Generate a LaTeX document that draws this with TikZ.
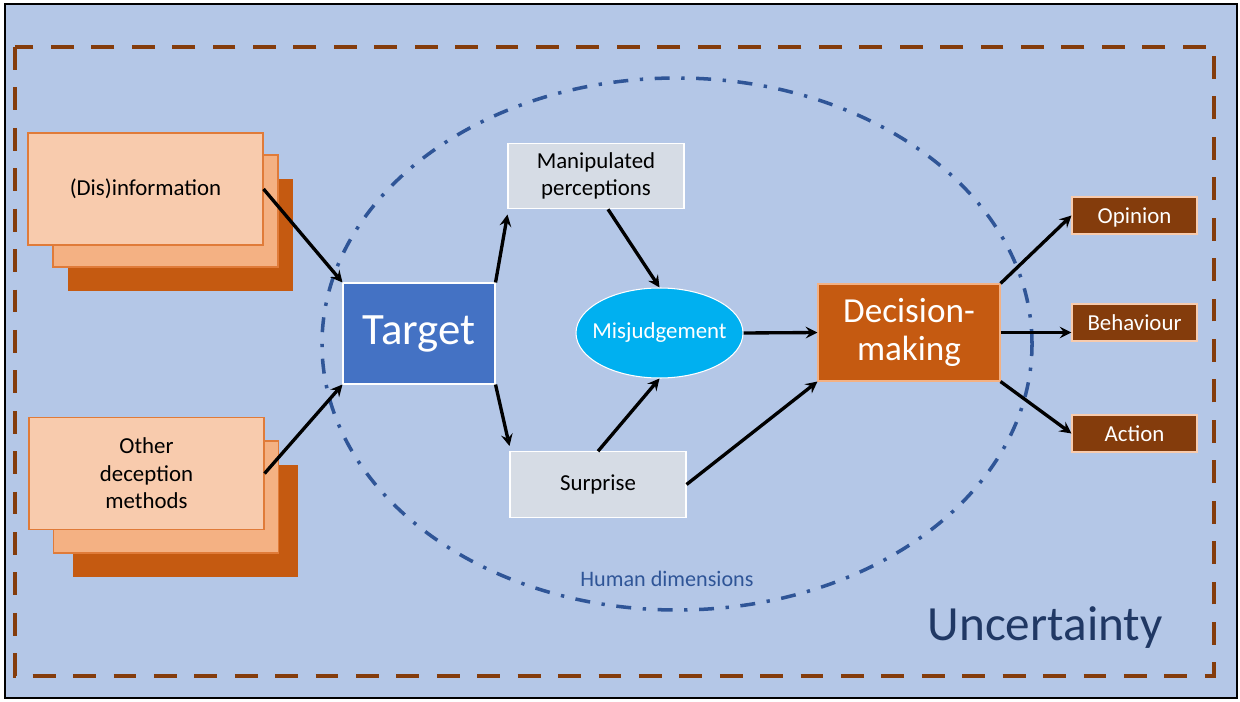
\documentclass[tikz,border=0pt]{standalone}
\usepackage{fontspec}
\setmainfont{Carlito}
\usetikzlibrary{shapes.geometric}
\definecolor{bgblue}{HTML}{B4C7E7}
\definecolor{framebrown}{HTML}{843C0C}
\definecolor{cardfront}{HTML}{F8CBAD}
\definecolor{cardmid}{HTML}{F4B183}
\definecolor{cardback}{HTML}{C55A11}
\definecolor{cardline}{HTML}{E07B39}
\definecolor{targetblue}{HTML}{4472C4}
\definecolor{greybox}{HTML}{D6DCE5}
\definecolor{misjblue}{HTML}{00B0F0}
\definecolor{humanblue}{HTML}{2F5597}
\definecolor{navy}{HTML}{203864}
\begin{document}
\begin{tikzpicture}[>=stealth,
  every node/.style={inner sep=0pt},
  txt/.style={font=\fontsize{13}{15.6}\selectfont},
  front/.style={txt,draw=cardline,line width=.6pt,fill=cardfront,minimum width=4.7cm,minimum height=2.24cm,align=center},
  middle/.style={draw=cardline,line width=.6pt,fill=cardmid,minimum width=4.5cm,minimum height=2.24cm},
  back/.style={fill=cardback,minimum width=4.5cm,minimum height=2.24cm},
  greybox/.style={txt,draw=white,line width=.6pt,fill=greybox,minimum width=3.52cm,minimum height=1.31cm,align=center},
  outcome/.style={txt,text depth=0pt,draw=cardfront,line width=.6pt,fill=framebrown,text=white,minimum width=2.5cm,minimum height=.74cm},
  arr/.style={->,line width=1.9pt}]
\useasboundingbox (0,0) rectangle (24.8,14.02);
\fill[white] (0,0) rectangle (24.8,14.02);
\draw[fill=bgblue,line width=.8pt] (.1,.06) rectangle (24.74,13.94);
\draw[framebrown,line width=2.5pt,dash pattern=on 13pt off 10pt] (.3,13.08) rectangle (24.28,.5);
\draw[humanblue,line width=2pt,dash pattern=on 8.5pt off 6.6pt on 1.9pt off 6.6pt] (13.54,7.14) ellipse (7.1 and 5.32);
\node[humanblue,font=\fontsize{12.6}{15}\selectfont] (hum) at (13.34,2.44) {Human dimensions};
\node[navy,font=\fontsize{28}{32}\selectfont] (unc) at (20.9,1.46) {Uncertainty};
% stacked cards
\node[back] (infoc) at (3.61,9.32) {};
\node[middle] (infob) at (3.31,9.8) {};
\node[front] (info) at (2.91,10.24) {\raisebox{-2pt}{(Dis)information}};
\node[back] (othc) at (3.71,3.61) {};
\node[middle] (othb) at (3.32,4.08) {};
\node[front] (oth) at (2.93,4.55) {Other\\deception\\methods};
% centre
\node[draw=white,line width=.6pt,fill=targetblue,text=white,minimum width=3.04cm,minimum height=2.02cm,font=\fontsize{25.5}{30}\selectfont] (tgt) at (8.38,7.35) {\raisebox{-3pt}{Target}};
\node[greybox] (man) at (11.92,10.5) {Manipulated\\perceptions};
\node[greybox] (sur) at (11.96,4.33) {\raisebox{-2pt}{Surprise}};
\node[ellipse,draw=white,line width=.6pt,fill=misjblue,text=white,minimum width=3.34cm,minimum height=1.8cm,txt] (mis) at (13.19,7.36) {\makebox[0pt]{Misjudgement}};
\node[draw=cardmid,line width=.6pt,fill=cardback,text=white,minimum width=3.64cm,minimum height=1.94cm,align=center,font=\fontsize{20}{24}\selectfont] (dm) at (18.18,7.37) {\raisebox{-2pt}{Decision-}\\making};
\node[outcome] (op) at (22.69,9.71) {Opinion};
\node[outcome] (beh) at (22.69,7.57) {Behaviour};
\node[outcome] (act) at (22.69,5.35) {Action};
% arrows
\draw[arr] (info.east) -- (tgt.north west);
\draw[arr] (oth.east) -- (tgt.south west);
\draw[arr] (tgt.north east) -- ([yshift=-3pt]man.south west);
\draw[arr] (tgt.south east) -- ([yshift=3pt]sur.north west);
\draw[arr] ([xshift=.24cm]man.south) -- (mis.north);
\draw[arr] (sur.north) -- (mis.south);
\draw[arr] (mis.east) -- (dm.west);
\draw[arr] (sur.east) -- (dm.south west);
\draw[arr] (dm.north east) -- (op.west);
\draw[arr] (dm.east) -- (dm.east -| beh.west);
\draw[arr] (dm.south east) -- (act.west);
\end{tikzpicture}
\end{document}
